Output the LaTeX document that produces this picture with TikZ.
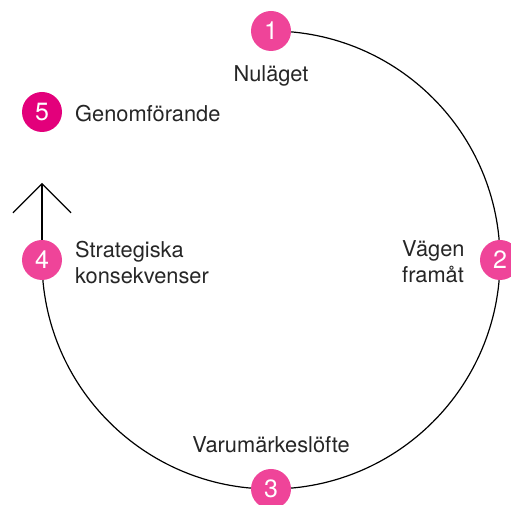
\documentclass[tikz,border=0pt]{standalone}
\usepackage{fontspec}
\setmainfont{TeX Gyre Heros}
\usetikzlibrary{arrows.meta,backgrounds}
\definecolor{stegrosa}{HTML}{EF4499}
\definecolor{stegmagenta}{HTML}{E3007B}
\definecolor{stegtext}{HTML}{262626}
\tikzset{
  steg/.style={circle,fill=stegrosa,minimum size=40pt,inner sep=0pt,text=white,
    font=\fontsize{25}{30}\selectfont},
  etikett/.style={text=stegtext,align=left,inner sep=0pt,
    font=\fontsize{21.8}{26}\selectfont}
}
\begin{document}
\begin{tikzpicture}[x=1pt,y=1pt]
\useasboundingbox (0,0) rectangle (511,505);

\node[steg] (n1) at (271,474) {1};
\node[steg] (n2) at (500,245) {2};
\node[steg] (n3) at (271,16) {3};
\node[steg] (n4) at (42,245) {4};
\node[steg,fill=stegmagenta] (n5) at (42,393) {5};
\coordinate (spets) at (42,322);

\node[etikett,anchor=base] (t1) at (271,423) {Nuläget};
\node[etikett,anchor=base west] (t2) at (402,222) {Vägen\\framåt};
\node[etikett,anchor=base] (t3) at (271,52) {Varumärkeslöfte};
\node[etikett,anchor=base west] (t4) at (75,221) {Strategiska\\konsekvenser};
\node[etikett,anchor=base west] (t5) at (75,383) {Genomförande};

\begin{scope}[on background layer]
\draw[line width=1.2pt] (n1.center) arc[start angle=90,end angle=-180,radius=229];
\draw[line width=1.2pt,-{Straight Barb[length=29pt,width=58pt]}] (n4.center) -- (spets);
\end{scope}
\end{tikzpicture}
\end{document}
